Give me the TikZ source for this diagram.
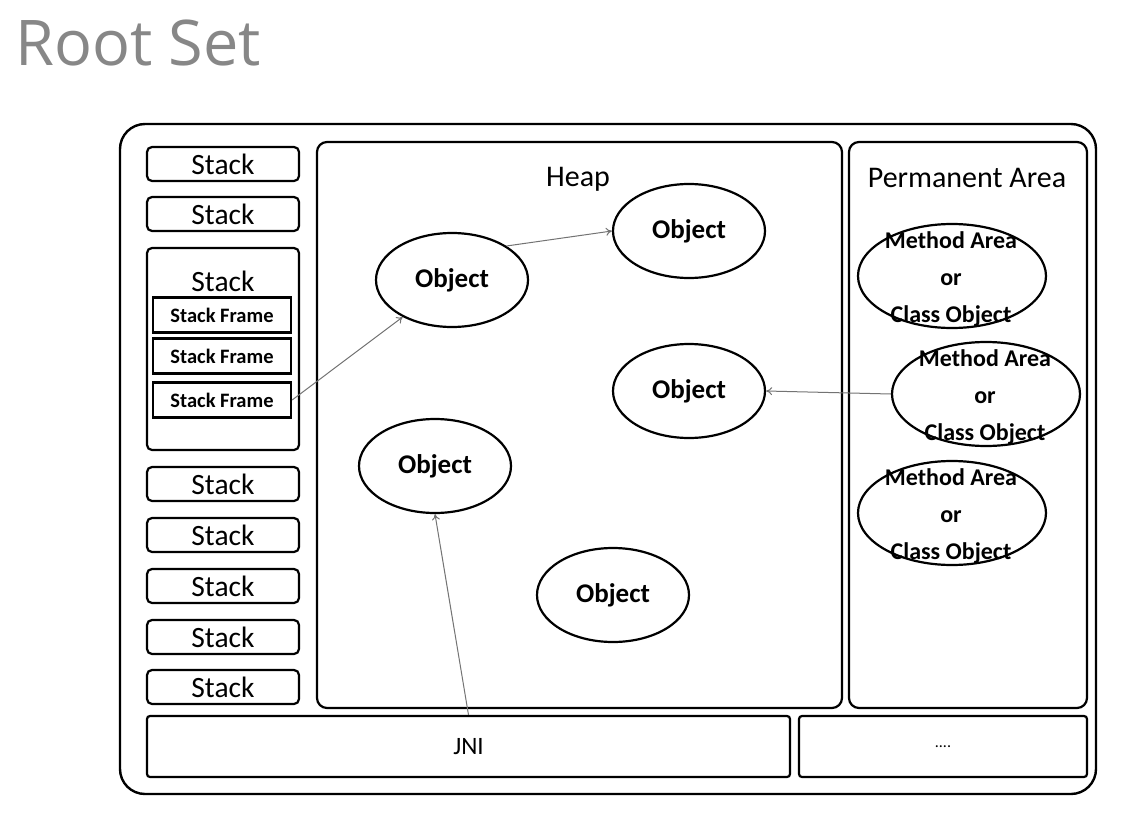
\documentclass[tikz,border=0pt]{standalone}
\usepackage{fontspec}
\setmainfont{Carlito}
\newfontfamily\titlefont{Open Sans}
\usetikzlibrary{shapes.geometric,arrows.meta}
\tikzset{
  box/.style={draw=black, line width=2.2pt, rounded corners=5pt},
  area/.style={draw=black, line width=2.2pt, rounded corners=10pt},
  stk/.style={box, minimum width=152pt, minimum height=34pt, inner sep=0pt, font=\fontsize{29.5}{31}\selectfont},
  frm/.style={draw=black, line width=2.2pt, minimum width=138pt, minimum height=35pt, inner sep=0pt, font=\bfseries\fontsize{20.5}{22}\selectfont},
  obj/.style={ellipse, draw=black, line width=2.2pt, minimum width=152pt, minimum height=94pt, inner sep=0pt, font=\bfseries\fontsize{27}{28}\selectfont},
  mae/.style={ellipse, draw=black, line width=2.2pt, minimum width=188pt, minimum height=104pt, inner sep=0pt},
  mat/.style={align=center, inner sep=0pt, font=\bfseries\fontsize{24}{37}\selectfont},
  lbl/.style={inner sep=0pt, font=\fontsize{30}{32}\selectfont},
  ref/.style={draw=black!55, line width=1pt, -{To[length=6pt,width=8pt]}}
}
\begin{document}
\begin{tikzpicture}[x=1pt,y=-1pt]
\useasboundingbox (0,0) rectangle (1138,824);
% title
\node[anchor=base west, inner sep=0pt, text=black!47, font=\titlefont\fontsize{63}{70}\selectfont] (title) at (15,66) {Root Set};
% outer frame
\draw[line width=2.4pt, rounded corners=25pt] (120,124) rectangle (1096,794);
% heap and permanent area
\draw[area] (317,142) rectangle (842,708);
\node[lbl] (heaplbl) at (578,179) {Heap};
\draw[area] (849,142) rectangle (1087,708);
\node[lbl] (permlbl) at (967,178) {Permanent Area};
% stacks
\node[stk] (s1) at (223,164) {Stack};
\node[stk] (s2) at (223,214) {Stack};
\draw[box] (147,248) rectangle (299,450);
\node[lbl, font=\fontsize{29.5}{31}\selectfont] (s3) at (223,281) {Stack};
\node[frm] (f1) at (222,315) {Stack Frame};
\node[frm] (f2) at (222,356) {Stack Frame};
\node[frm] (f3) at (222,400) {Stack Frame};
\node[stk] (s4) at (223,484) {Stack};
\node[stk] (s5) at (223,535) {Stack};
\node[stk] (s6) at (223,586) {Stack};
\node[stk] (s7) at (223,637) {Stack};
\node[stk] (s8) at (223,687) {Stack};
% bottom boxes
\node[box, rounded corners=3pt, minimum width=643pt, minimum height=61pt, inner sep=0pt, font=\fontsize{25}{26}\selectfont] (jni) at (468.5,746.5) {JNI};
\node[box, rounded corners=3pt, minimum width=288pt, minimum height=61pt, inner sep=0pt, font=\fontsize{16}{18}\selectfont] (dots) at (943,746.5) {....};
% objects
\node[obj] (o1) at (689,231) {Object};
\node[obj] (o2) at (452,280) {Object};
\node[obj] (o3) at (689,391) {Object};
\node[obj] (o4) at (435,466) {Object};
\node[obj] (o5) at (613,595) {Object};
% method areas
\node[mae] (m1) at (952,276) {};
\node[mat] (m1t) at (951,279) {Method Area\\or\\Class Object};
\node[mae] (m2) at (986,394) {};
\node[mat] (m2t) at (985,397) {Method Area\\or\\Class Object};
\node[mae] (m3) at (952,513) {};
\node[mat] (m3t) at (951,516) {Method Area\\or\\Class Object};
% references
\draw[ref] (f3.east) -- (o2);
\draw[ref] (o2.north east) -- (o1.west);
\draw[ref] (m2.west) -- (o3.east);
\draw[ref] (jni.north) -- (o4.south);
\end{tikzpicture}
\end{document}
